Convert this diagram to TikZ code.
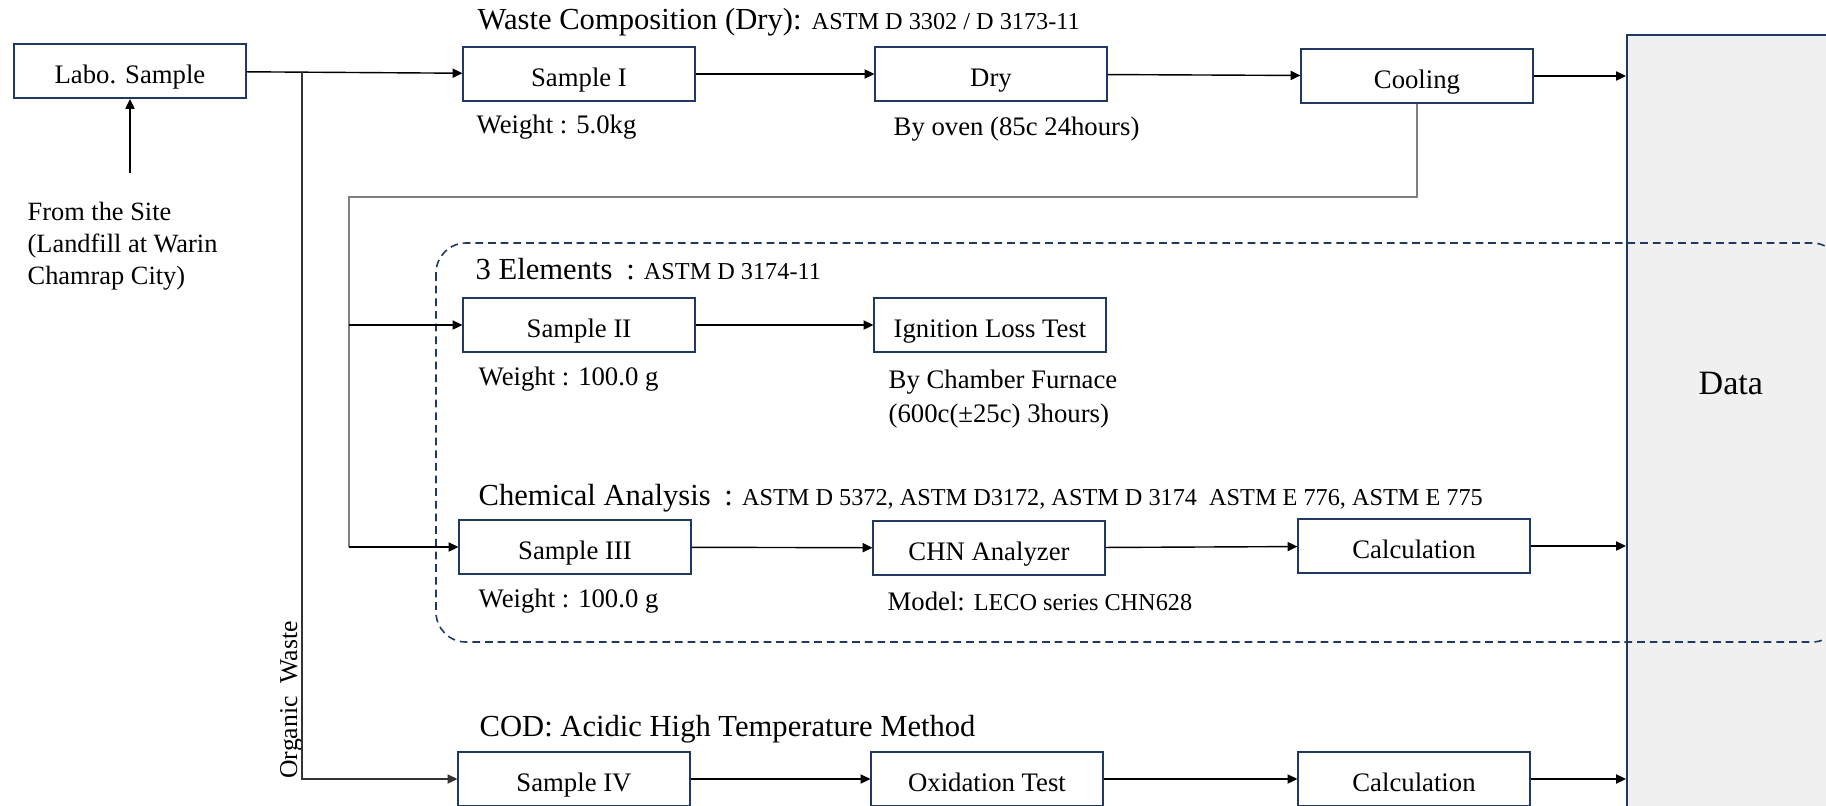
\documentclass[tikz,border=0pt]{standalone}
\usepackage{fontspec}
\setmainfont{Liberation Serif}
\usetikzlibrary{arrows.meta}
\definecolor{boxnavy}{HTML}{203864}
\definecolor{datagray}{HTML}{F0F0F0}
\definecolor{loopgray}{HTML}{7F7F7F}
\newcommand{\hdfont}{\fontsize{8.7}{10}\selectfont}
\newcommand{\txfont}{\fontsize{7.6}{9.6}\selectfont}
\newcommand{\smfont}{\fontsize{6.9}{8}\selectfont}
\begin{document}
\begin{tikzpicture}[x=0.01cm,y=-0.01cm,
        stepbox/.style={draw=boxnavy,fill=white,line width=0.55pt,minimum width=2.31cm,
            minimum height=0.54cm,inner sep=0pt,text height=0.75em,text depth=0.05em,font=\txfont},
        note/.style={anchor=base west,inner sep=0pt,font=\txfont},
        head/.style={anchor=base west,inner sep=0pt,font=\hdfont},
        arr/.style={-{Triangle[length=2.8pt,width=2.6pt]},line width=0.4pt}]
                \useasboundingbox (0,0) rectangle (1826,805);
                % data column
                \node[draw=boxnavy,fill=datagray,line width=0.55pt,anchor=north west,
                    minimum width=3cm,minimum height=8cm,inner sep=0pt] (data) at (1626,34) {};
                \node[anchor=base west,inner sep=0pt,font=\fontsize{9.7}{11}\selectfont] (datatxt) at (1698,394) {Data};
                % dashed group
                \draw[boxnavy,dash pattern=on 2.2pt off 1.4pt,line width=0.45pt,rounded corners=0.3cm]
                    (436,243) rectangle (1842,642);

                % boxes
                \node[stepbox] (labo) at (130,71) {Labo. Sample};
                \node[stepbox] (s1) at (579,74) {Sample I};
                \node[stepbox] (dry) at (991,74) {Dry};
                \node[stepbox] (cool) at (1417,76) {Cooling};
                \node[stepbox] (s2) at (579,325) {Sample II};
                \node[stepbox] (ign) at (990,325) {Ignition Loss Test};
                \node[stepbox] (s3) at (575,547) {Sample III};
                \node[stepbox] (chn) at (989,548) {CHN Analyzer};
                \node[stepbox] (calc1) at (1414,546) {Calculation};
                \node[stepbox] (s4) at (574,779) {Sample IV};
                \node[stepbox] (ox) at (987,779) {Oxidation Test};
                \node[stepbox] (calc2) at (1414,779) {Calculation};

                % headings and notes
                \node[head] (hcomp) at (477,29) {Waste Composition (Dry): {\smfont ASTM D 3302 / D 3173-11}};
                \node[head] (hthree) at (475,279) {3 Elements\hspace{0.45em}:\hspace{0.3em}{\smfont ASTM D 3174-11}};
                \node[head] (hchem) at (478,505) {Chemical Analysis\hspace{0.45em}:\hspace{0.3em}{\smfont ASTM D 5372, ASTM D3172, ASTM D 3174\ \ ASTM E 776, ASTM E 775}};
                \node[head] (hcod) at (479,736) {COD: Acidic High Temperature Method};
                \node[note] (w1) at (476,133) {Weight : 5.0kg};
                \node[note] (oven) at (893,135) {By oven (85c 24hours)};
                \node[note] (w2) at (478,385) {Weight : 100.0 g};
                \node[note,anchor=west,align=left] (furn) at (888,399) {By Chamber Furnace\\(600c(±25c) 3hours)};
                \node[note] (w3) at (478,607) {Weight : 100.0 g};
                \node[note] (model) at (887,610) {Model: {\smfont LECO series CHN628}};
                \node[anchor=west,align=left,inner sep=0pt,font=\fontsize{7.5}{9.1}\selectfont] (site)
                    at (27,246) {From the Site\\(Landfill at Warin\\Chamrap City)};
                \node[rotate=90,anchor=base,inner sep=0pt,font=\fontsize{7.3}{9}\selectfont] (org)
                    at (297,700) {Organic\ \ Waste};

                % connectors
                \scope[arr]
                \draw (labo.south |- site.north) ++(0,-28) -- (labo);
                \draw (labo) -- (s1);
                \draw (s1) -- (dry);
                \draw (dry) -- (cool);
                \draw (cool) -- (cool -| data.west);
                \coordinate (split) at (302,72);
                \draw[black!80] (split) |- (s4);
                \draw (s2) -- (ign);
                \draw (s3) -- (chn);
                \draw (chn) -- (calc1);
                \draw (calc1) -- (calc1 -| data.west);
                \draw (s4) -- (ox);
                \draw (ox) -- (calc2);
                \draw (calc2) -- (calc2 -| data.west);
                \endscope
                % back from cooling
                \coordinate (loop) at (349,197);
                \draw[loopgray,line width=0.5pt] (cool) |- (loop) -- (loop |- s3);
                \draw[arr] (loop |- s2) -- (s2);
                \draw[arr] (loop |- s3) -- (s3);
            \end{tikzpicture}
\end{document}
